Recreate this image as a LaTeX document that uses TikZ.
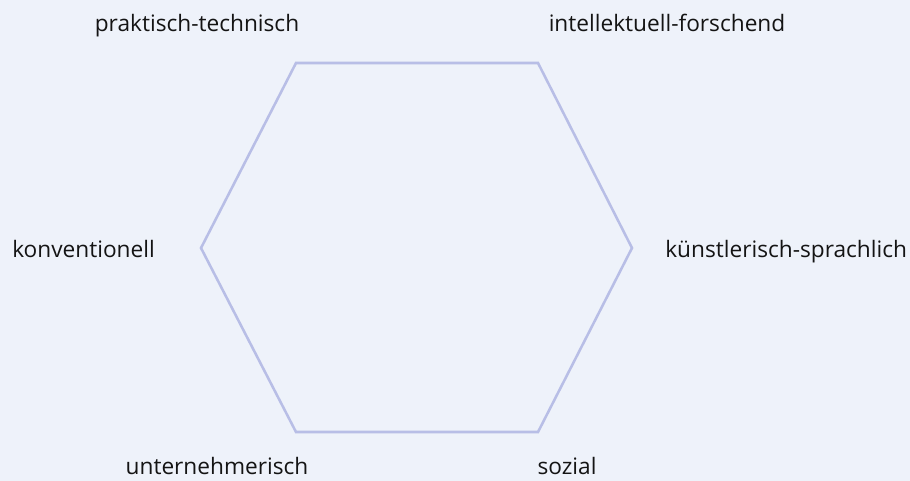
\documentclass[tikz,border=0pt]{standalone}
\usepackage{fontspec}
\setmainfont{Open Sans}
\usepackage{tikz}
\usetikzlibrary{positioning}
\definecolor{paleblue}{RGB}{238,242,250}
\definecolor{lavender}{RGB}{184,190,230}
\definecolor{inktext}{RGB}{20,20,20}
\tikzset{
  hexline/.style={draw=lavender,line width=1.9pt,line join=miter},
  typelabel/.style={anchor=base,inner sep=0pt,font=\fontsize{17}{20}\selectfont,text=inktext}
}

\begin{document}
\begin{tikzpicture}[x=0.75pt,y=-0.75pt]
  \fill[paleblue] (0,0) rectangle (910,481);
  \useasboundingbox (0,0) rectangle (910,481);
  % corners of the hexagon
  \coordinate (ptop) at (296,63);
  \coordinate (itop) at (538,63);
  \coordinate (kright) at (632,248);
  \coordinate (sbot) at (538,432);
  \coordinate (ubot) at (296,432);
  \coordinate (kleft) at (201,248);
  \draw[hexline] (ptop)--(itop)--(kright)--(sbot)--(ubot)--(kleft)--cycle;
  % the six types
  \node[typelabel] (praktisch) at (197,32) {praktisch-technisch};
  \node[typelabel] (intellekt) at (667,32) {intellektuell-forschend};
  \node[typelabel,anchor=base west] (konvent) at (12,257) {konventionell};
  \node[typelabel,anchor=base west] (kuenstler) at (665,257) {künstlerisch-sprachlich};
  \node[typelabel] (unternehm) at (217,474) {unternehmerisch};
  \node[typelabel] (sozial) at (567,474) {sozial};
\end{tikzpicture}
\end{document}
